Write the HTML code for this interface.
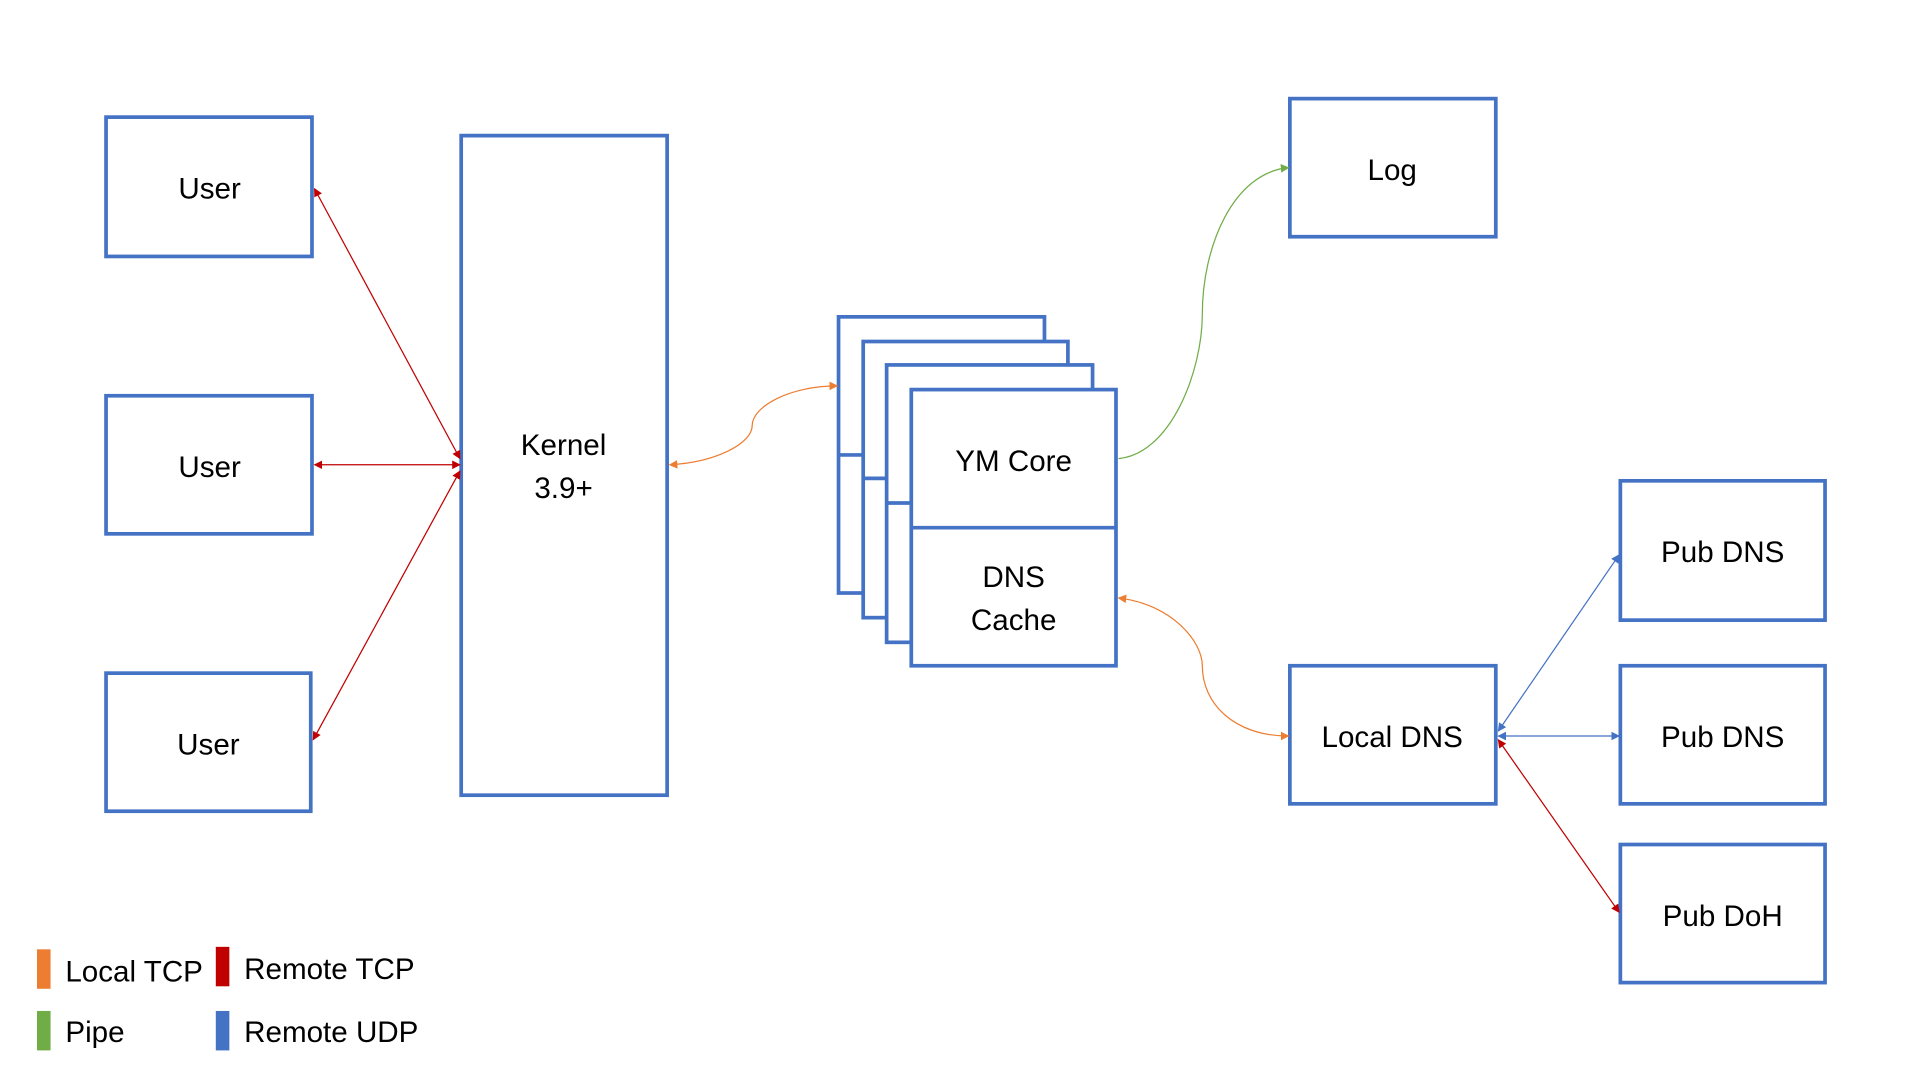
<!DOCTYPE html>
<html><head><style>html,body{margin:0;padding:0;background:#fff;}svg{display:block}</style></head>
<body>
<svg width="1920" height="1080" viewBox="0 0 1557 876" preserveAspectRatio="none" xmlns="http://www.w3.org/2000/svg" font-family="Liberation Sans, sans-serif" font-size="24" fill="none">
<defs>
<marker id="r" viewBox="0 0 10 10" refX="9" refY="5" markerWidth="7" markerHeight="7" orient="auto-start-reverse"><path d="M0,0L10,5L0,10z" fill="#c00000"/></marker>
<marker id="o" viewBox="0 0 10 10" refX="9" refY="5" markerWidth="7" markerHeight="7" orient="auto-start-reverse"><path d="M0,0L10,5L0,10z" fill="#ed7d31"/></marker>
<marker id="g" viewBox="0 0 10 10" refX="9" refY="5" markerWidth="7" markerHeight="7" orient="auto-start-reverse"><path d="M0,0L10,5L0,10z" fill="#70ad47"/></marker>
<marker id="b" viewBox="0 0 10 10" refX="9" refY="5" markerWidth="7" markerHeight="7" orient="auto-start-reverse"><path d="M0,0L10,5L0,10z" fill="#4472c4"/></marker>
</defs>
<g stroke="#4472c4" stroke-width="3" fill="#fff">
<rect x="86" y="95" width="167" height="113"/>
<rect x="86" y="321" width="167" height="112"/>
<rect x="86" y="546" width="166" height="112"/>
<rect x="374" y="110" width="167" height="535"/>
<rect x="680" y="257" width="167" height="224"/><line x1="680" y1="369" x2="847" y2="369"/>
<rect x="700" y="277" width="166" height="224"/><line x1="700" y1="388" x2="866" y2="388"/>
<rect x="719" y="296" width="167" height="225"/><line x1="719" y1="408" x2="886" y2="408"/>
<rect x="739" y="316" width="166" height="224"/><line x1="739" y1="428" x2="905" y2="428"/>
<rect x="1046" y="80" width="167" height="112"/>
<rect x="1314" y="390" width="166" height="113"/>
<rect x="1314" y="540" width="166" height="112"/>
<rect x="1314" y="685" width="166" height="112"/>
<rect x="1046" y="540" width="167" height="112"/>
</g>
<g stroke-width="1">
<line x1="373" y1="372" x2="255" y2="153" stroke="#c00000" marker-start="url(#r)" marker-end="url(#r)"/>
<line x1="373" y1="377" x2="255" y2="377" stroke="#c00000" marker-start="url(#r)" marker-end="url(#r)"/>
<line x1="373" y1="382" x2="254" y2="600" stroke="#c00000" marker-start="url(#r)" marker-end="url(#r)"/>
<path d="M543,377 C580,375 610,360 610,345 C610,330 640,313 679,313" stroke="#ed7d31" marker-start="url(#o)" marker-end="url(#o)"/>
<path d="M907,372 C950,368 975,300 975,255 C975,200 1000,140 1045,136" stroke="#70ad47" marker-end="url(#g)"/>
<path d="M907,485 C950,490 975,520 975,540 C975,570 1000,597 1045,597" stroke="#ed7d31" marker-start="url(#o)" marker-end="url(#o)"/>
<line x1="1215" y1="593" x2="1313" y2="450" stroke="#4472c4" marker-start="url(#b)" marker-end="url(#b)"/>
<line x1="1215" y1="597" x2="1313" y2="597" stroke="#4472c4" marker-start="url(#b)" marker-end="url(#b)"/>
<line x1="1215" y1="600" x2="1313" y2="740" stroke="#c00000" marker-start="url(#r)" marker-end="url(#r)"/>
</g>
<g fill="#000" text-anchor="middle">
<text x="170" y="161">User</text>
<text x="170" y="387">User</text>
<text x="169" y="612">User</text>
<text x="457" y="369">Kernel</text>
<text x="457" y="404">3.9+</text>
<text x="822" y="382">YM Core</text>
<text x="822" y="476">DNS</text>
<text x="822" y="511">Cache</text>
<text x="1129" y="146">Log</text>
<text x="1397" y="456">Pub DNS</text>
<text x="1397" y="606">Pub DNS</text>
<text x="1397" y="751">Pub DoH</text>
<text x="1129" y="606">Local DNS</text>
</g>
<rect x="30" y="770" width="11" height="32" fill="#ed7d31"/>
<rect x="175" y="768" width="11" height="32" fill="#c00000"/>
<rect x="30" y="820" width="11" height="32" fill="#70ad47"/>
<rect x="175" y="820" width="11" height="32" fill="#4472c4"/>
<g fill="#000">
<text x="53" y="796">Local TCP</text>
<text x="198" y="794">Remote TCP</text>
<text x="53" y="845">Pipe</text>
<text x="198" y="845">Remote UDP</text>
</g>
</svg>
</body></html>
